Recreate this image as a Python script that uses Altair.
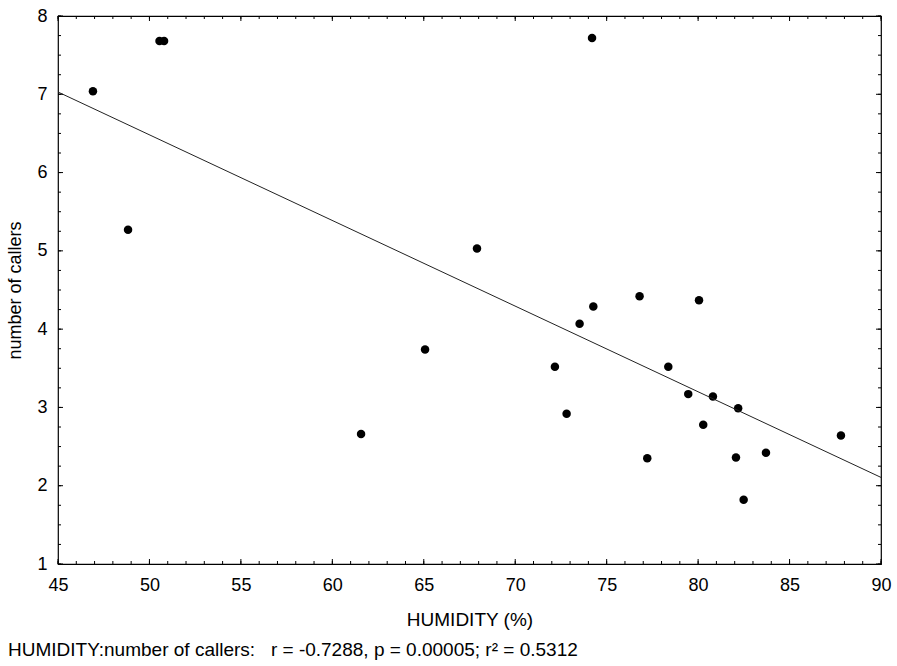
import altair as alt
import pandas as pd

# Observations: relative humidity (%) and number of calling males
humidity = [46.91, 50.55, 50.80, 48.83, 74.20, 67.91, 61.57, 65.07, 72.17, 72.81,
            73.52, 74.27, 76.80, 77.22, 80.05, 78.37, 79.46, 80.81, 80.28, 82.19,
            82.07, 83.71, 82.49, 87.81]
callers = [7.04, 7.68, 7.68, 5.27, 7.72, 5.03, 2.66, 3.74, 3.52, 2.92,
           4.07, 4.29, 4.42, 2.35, 4.37, 3.52, 3.17, 3.14, 2.78, 2.99,
           2.36, 2.42, 1.82, 2.64]

x_major = [45, 50, 55, 60, 65, 70, 75, 80, 85, 90]
x_minor = list(range(45, 91))
y_major = [1, 2, 3, 4, 5, 6, 7, 8]
y_minor = [1 + 0.25 * i for i in range(29)]

footer = ("HUMIDITY:number of callers:\u00a0\u00a0\u00a0r = -0.7288, "
          "p = 0.00005; r\u00b2 = 0.5312")

W, H = 823, 548
FONT = "Liberation Sans"
MAJ, MIN = 5, 3

df = pd.DataFrame({"humidity": humidity, "callers": callers})

xs = alt.Scale(domain=[45, 90], nice=False, zero=False)
ys = alt.Scale(domain=[1, 8], nice=False, zero=False)

x_axis = alt.Axis(values=x_major, format="d", ticks=False, domain=False, grid=False,
                  labelFont=FONT, labelFontSize=18, labelColor="#000",
                  labelPadding=12, title="HUMIDITY (%)", titleFont=FONT,
                  titleFontSize=19, titleFontWeight="normal", titleColor="#000",
                  titlePadding=16, labelFlush=False)
y_axis = alt.Axis(values=y_major, format="d", ticks=False, domain=False, grid=False,
                  labelFont=FONT, labelFontSize=18, labelColor="#000",
                  labelPadding=11, title="number of callers", titleFont=FONT,
                  titleFontSize=18, titleFontWeight="normal", titleColor="#000",
                  titlePadding=12, labelFlush=False)

points = alt.Chart(df).mark_circle(size=72, color="#000", opacity=1).encode(
    x=alt.X("humidity:Q", scale=xs, axis=x_axis),
    y=alt.Y("callers:Q", scale=ys, axis=y_axis),
)

fit = alt.Chart(df).transform_regression(
    "humidity", "callers", extent=[45, 90]
).mark_line(color="#222", strokeWidth=1).encode(
    x=alt.X("humidity:Q", scale=xs),
    y=alt.Y("callers:Q", scale=ys),
)


def xticks(vals, length):
    d = pd.DataFrame({"v": vals})
    bottom = alt.Chart(d).mark_rule(color="#000", strokeWidth=1).encode(
        x=alt.X("v:Q", scale=xs), y=alt.value(H), y2=alt.value(H - length))
    top = alt.Chart(d).mark_rule(color="#000", strokeWidth=1).encode(
        x=alt.X("v:Q", scale=xs), y=alt.value(0), y2=alt.value(length))
    return [bottom, top]


def yticks(vals, length):
    d = pd.DataFrame({"v": vals})
    left = alt.Chart(d).mark_rule(color="#000", strokeWidth=1).encode(
        y=alt.Y("v:Q", scale=ys), x=alt.value(0), x2=alt.value(length))
    right = alt.Chart(d).mark_rule(color="#000", strokeWidth=1).encode(
        y=alt.Y("v:Q", scale=ys), x=alt.value(W), x2=alt.value(W - length))
    return [left, right]


note = alt.Chart(pd.DataFrame({"t": [footer]})).mark_text(
    align="left", baseline="alphabetic", font=FONT, fontSize=19, color="#000"
).encode(x=alt.value(-50), y=alt.value(640), text="t:N")

layers = ([points, fit] + xticks(x_minor, MIN) + xticks(x_major, MAJ)
          + yticks(y_minor, MIN) + yticks(y_major, MAJ) + [note])

chart = alt.layer(*layers).properties(
    width=W, height=H,
    autosize=alt.AutoSizeParams(type="none"),
    padding={"left": 58, "top": 16, "right": 16, "bottom": 102},
    background="#fff",
).configure_view(stroke="#000", strokeWidth=1.2)

chart.save("out.html", embed_options={"renderer": "svg", "actions": False})
